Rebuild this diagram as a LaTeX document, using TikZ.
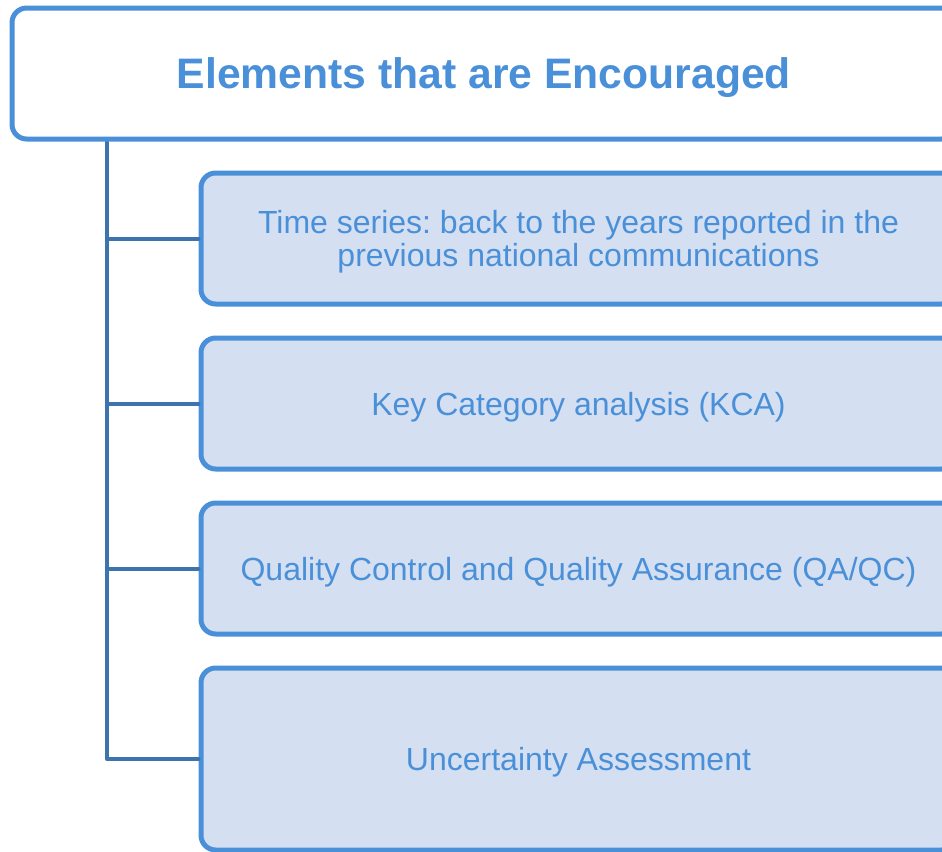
\documentclass[tikz,border=0pt]{standalone}
\usepackage{fontspec}
\setmainfont{Liberation Sans}
\usepackage{tikz}
\frenchspacing
\definecolor{boxline}{HTML}{4A90D9}
\definecolor{boxfill}{HTML}{D4DFF2}
\definecolor{linkline}{HTML}{3D74AE}
\tikzset{
  headbox/.style={draw=boxline, line width=3.75pt, fill=white, rounded corners=11pt,
    minimum width=708pt, minimum height=98.25pt, text=boxline, text depth=0pt,
    font=\fontsize{32}{36}\selectfont\bfseries},
  itembox/.style={draw=boxline, line width=3.75pt, fill=boxfill, rounded corners=11pt,
    minimum width=566.25pt, minimum height=98.25pt, text=boxline, align=center,
    text depth=0pt, font=\fontsize{24}{24.75}\selectfont},
  link/.style={draw=linkline, line width=3pt, line join=round, line cap=round}
}

\begin{document}
\begin{tikzpicture}[x=0.75pt, y=-0.75pt]
        \useasboundingbox (0, 0) rectangle (942, 851);
        \clip (0, 0) rectangle (942, 851);

        \coordinate (top) at (107, 139);
        \node[itembox] (ts) at (578.5, 238.5) {Time series: back to the years reported in the\\previous national communications};
        \node[itembox] (kca) at (578.5, 403.5) {Key Category analysis (KCA)};
        \node[itembox] (qaqc) at (578.5, 568.5) {Quality Control and Quality Assurance (QA/QC)};
        \node[itembox, minimum height=136.5pt] (ua) at (578.5, 759) {Uncertainty Assessment};

        \draw[link] (top) |- (ua.west);
        \draw[link] (top) |- (ts.west);
        \draw[link] (top) |- (kca.west);
        \draw[link] (top) |- (qaqc.west);

        \node[headbox] (head) at (484, 73.5) {Elements that are Encouraged};
      \end{tikzpicture}
\end{document}
